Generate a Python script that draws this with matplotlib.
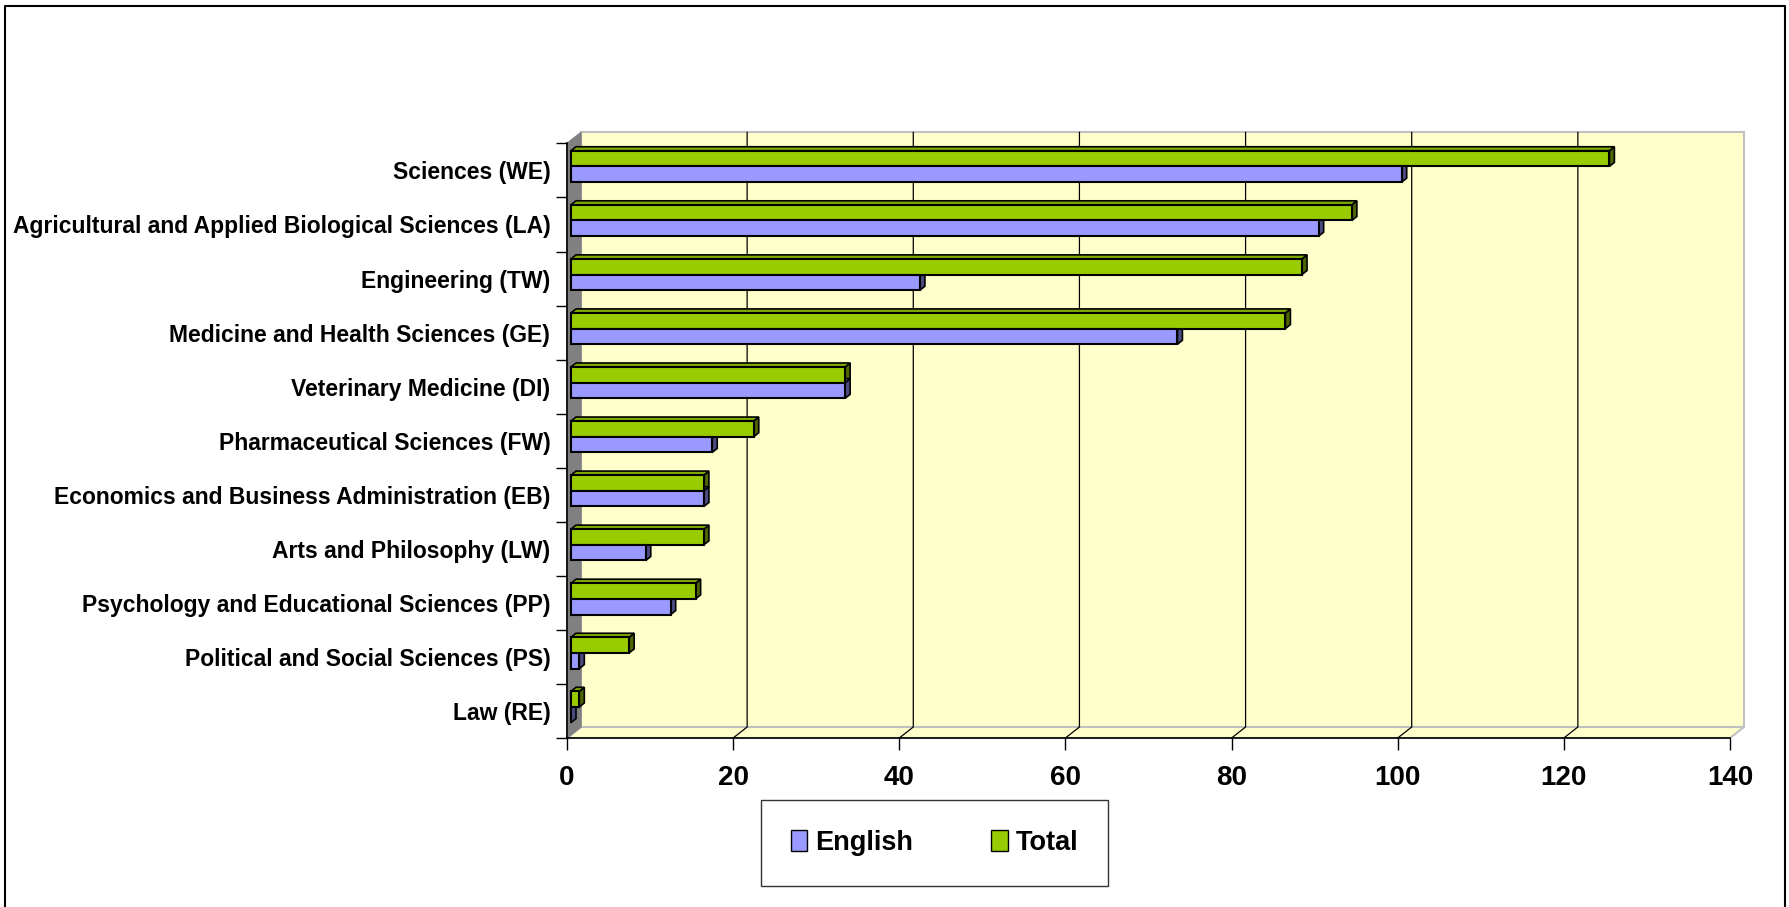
import numpy as np
import matplotlib
matplotlib.use("Agg")
from matplotlib import pyplot as plt
from matplotlib.patches import Polygon, Patch
from matplotlib.lines import Line2D
import matplotlib.transforms as mtransforms

plt.rcParams['font.family'] = ['Liberation Sans', 'DejaVu Sans']
plt.rcParams['font.weight'] = 'bold'

# data
categories = ["Sciences (WE)",
              "Agricultural and Applied Biological Sciences (LA)",
              "Engineering (TW)",
              "Medicine and Health Sciences (GE)",
              "Veterinary Medicine (DI)",
              "Pharmaceutical Sciences (FW)",
              "Economics and Business Administration (EB)",
              "Arts and Philosophy (LW)",
              "Psychology and Educational Sciences (PP)",
              "Political and Social Sciences (PS)",
              "Law (RE)"]
english = [100, 90, 42, 73, 33, 17, 16, 9, 12, 1, 0]
total = [125, 94, 88, 86, 33, 22, 16, 16, 15, 7, 1]
x_ticks = [0, 20, 40, 60, 80, 100, 120, 140]

W, H = 1789, 907
DPI = 100
fig = plt.figure(figsize=(W / DPI, H / DPI), dpi=DPI)

# front plane of the pseudo 3d box (pixels, from top-left)
left_px, right_px, top_px, bot_px = 567, 1730, 143.4, 738
ax = fig.add_axes([left_px / W, (H - bot_px) / H,
                   (right_px - left_px) / W, (bot_px - top_px) / H])
ax.set_facecolor('none')

n = len(categories)
xmax = 140
ax.set_xlim(0, xmax)
ax.set_ylim(n - 0.5, -0.5)

ppx = (right_px - left_px) / xmax
ppy = (bot_px - top_px) / n

# depth of the back wall
wall_dx, wall_dy = 14 / ppx, 11 / ppy
y_lo, y_hi = n - 0.5, -0.5

back = Polygon([(wall_dx, y_lo - wall_dy), (xmax + wall_dx, y_lo - wall_dy),
                (xmax + wall_dx, y_hi - wall_dy), (wall_dx, y_hi - wall_dy)],
               closed=True, facecolor='#FFFFCC', edgecolor='#C0C0C0', lw=1.5,
               clip_on=False, zorder=0.5)
ax.add_patch(back)
floor = Polygon([(0, y_lo), (xmax, y_lo), (xmax + wall_dx, y_lo - wall_dy),
                 (wall_dx, y_lo - wall_dy)],
                closed=True, facecolor='#FFFFCC', edgecolor='#C0C0C0', lw=1.5,
                clip_on=False, zorder=0.6)
ax.add_patch(floor)
lwall = Polygon([(0, y_lo), (0, y_hi), (wall_dx, y_hi - wall_dy),
                 (wall_dx, y_lo - wall_dy)],
                closed=True, facecolor='#808080', edgecolor='#808080', lw=1,
                clip_on=False, zorder=0.7)
ax.add_patch(lwall)

for xv in x_ticks[1:-1]:
    ax.plot([xv, xv + wall_dx, xv + wall_dx],
            [y_lo, y_lo - wall_dy, y_hi - wall_dy],
            color='black', lw=0.9, clip_on=False, zorder=0.8)

# bars sit slightly behind the front plane
off = mtransforms.ScaledTranslation(4 / DPI, 4 / DPI, fig.dpi_scale_trans)
bar_tr = ax.transData + off
h = 0.29
bdx, bdy = 5 / ppx, 4 / ppy
y = np.arange(n)

series = [(total, y - h / 2, '#99CC00', '#4C6600', '#80AA00'),
          (english, y + h / 2, '#9999FF', '#4C4C80', '#8080D0')]

for vals, pos, col, side, topc in series:
    ax.barh(pos, vals, height=h, color=col, edgecolor='black', lw=1.5,
            transform=bar_tr, zorder=3)
    for v, yc in zip(vals, pos):
        yt, yb = yc - h / 2, yc + h / 2
        ax.add_patch(Polygon([(v, yt), (v, yb), (v + bdx, yb - bdy),
                              (v + bdx, yt - bdy)], closed=True,
                             facecolor=side, edgecolor='black', lw=1.2,
                             transform=bar_tr, zorder=2.5, clip_on=False))
        ax.add_patch(Polygon([(0, yt), (v, yt), (v + bdx, yt - bdy),
                              (bdx, yt - bdy)], closed=True,
                             facecolor=topc, edgecolor='black', lw=1.2,
                             transform=bar_tr, zorder=2.5, clip_on=False))

ax.spines['top'].set_visible(False)
ax.spines['right'].set_visible(False)
ax.spines['left'].set_linewidth(1.2)
ax.spines['bottom'].set_linewidth(1.2)
ax.spines['left'].set_zorder(4)
ax.spines['bottom'].set_zorder(4)

ax.set_xticks(x_ticks)
ax.set_xticklabels([str(t) for t in x_ticks], fontsize=20, fontweight='bold')
ax.tick_params(axis='x', length=8.6, width=1, pad=11, direction='out')

ax.set_yticks(y)
ax.set_yticklabels(categories, fontsize=16.5, fontweight='bold')
ax.set_yticks(np.arange(n + 1) - 0.5, minor=True)
ax.tick_params(axis='y', which='major', length=0, pad=12)
ax.tick_params(axis='y', which='minor', length=8, width=1, direction='out')

handles = [Patch(facecolor='#9999FF', edgecolor='black', label='English'),
           Patch(facecolor='#99CC00', edgecolor='black', label='Total')]
leg = fig.legend(handles=handles, loc='center', ncol=2,
                 bbox_to_anchor=(934.5 / W, (H - 843) / H),
                 prop={'size': 19.5, 'weight': 'bold'}, frameon=True,
                 fancybox=False, edgecolor='black', handlelength=0.6,
                 handleheight=0.8, handletextpad=0.3, columnspacing=2.9,
                 borderpad=1.1, borderaxespad=0)
leg.get_frame().set_linewidth(1.0)

# outer border (bottom edge is cut off in the original)
fig.add_artist(Line2D([5 / W, 5 / W, 1785 / W, 1785 / W],
                      [0, 1 - 6 / H, 1 - 6 / H, 0],
                      transform=fig.transFigure, color='black', lw=1.5))

fig.savefig('out.png', dpi=DPI)
